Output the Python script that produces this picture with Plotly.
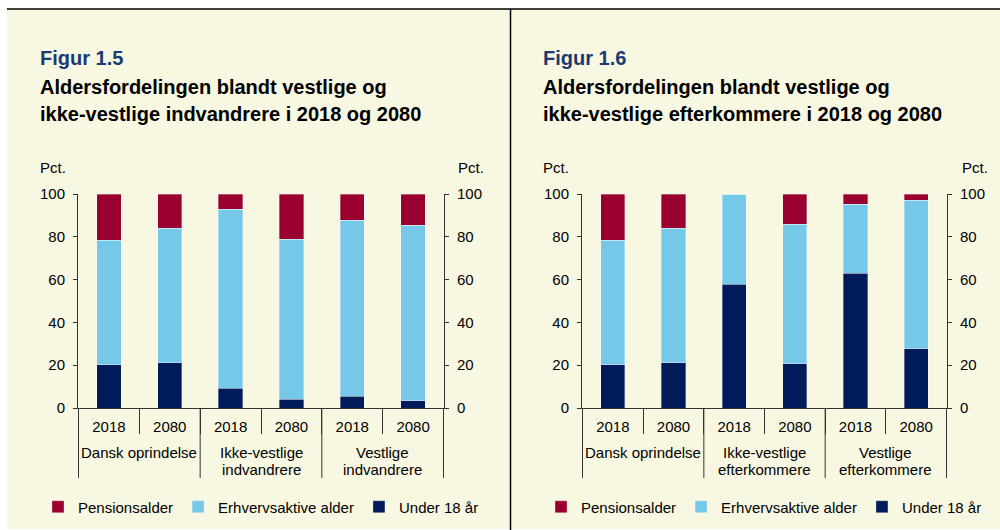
import plotly.graph_objects as go

# ---------------- data ----------------
years = ["2018", "2080", "2018", "2080", "2018", "2080"]
groups_left = ["Dansk oprindelse", "Dansk oprindelse",
               "Ikke-vestlige<br>indvandrere", "Ikke-vestlige<br>indvandrere",
               "Vestlige<br>indvandrere", "Vestlige<br>indvandrere"]
groups_right = ["Dansk oprindelse", "Dansk oprindelse",
                "Ikke-vestlige<br>efterkommere", "Ikke-vestlige<br>efterkommere",
                "Vestlige<br>efterkommere", "Vestlige<br>efterkommere"]

series_names = ["Pensionsalder", "Erhvervsaktive alder", "Under 18 år"]

# Figur 1.5 (indvandrere)
left_under18 = [20.1, 21.2, 9.2, 4.2, 5.6, 3.4]
left_working = [58.4, 62.7, 83.6, 74.7, 82.2, 82.1]
left_pension = [21.5, 16.1, 7.2, 21.1, 12.2, 14.5]

# Figur 1.6 (efterkommere)
right_under18 = [20.1, 21.2, 57.9, 20.6, 63.0, 27.6]
right_working = [58.4, 62.7, 41.9, 65.2, 32.3, 69.4]
right_pension = [21.5, 16.1, 0.2, 14.2, 4.7, 3.0]

y_ticks = [0, 20, 40, 60, 80, 100]

# ---------------- style ----------------
C_PENS = "#990030"
C_WORK = "#76C8E8"
C_UNDER = "#001A5A"
CREAM = "#F8F7E1"
AXIS = "#333333"
FONT = "Liberation Sans, Arial, sans-serif"
W, H = 1000, 530


def px_x(p):
    return p / W


def px_y(p):
    return 1 - p / H


fig = go.Figure()
shapes = []
ann = []


def add_panel(groups, under, work, pens, xa, ya, ya_right, legend):
    cats = ["%s | %s" % (g, y) for g, y in zip(groups, years)]
    for name, vals, col in [(series_names[2], under, C_UNDER),
                            (series_names[1], work, C_WORK),
                            (series_names[0], pens, C_PENS)]:
        fig.add_trace(go.Bar(
            x=cats, y=vals, name=name, xaxis=xa, yaxis=ya,
            marker=dict(color=col, line=dict(color="rgba(255,255,255,0.55)", width=0.6)),
            legend=legend, showlegend=True,
        ))
    # carrier trace (draws nothing) so the right-hand axis is rendered
    fig.add_trace(go.Scatter(x=cats, y=pens, mode="none", xaxis=xa, yaxis=ya_right,
                             showlegend=False, hoverinfo="skip"))

    # group structure: labels under the year labels, dividers at group edges
    spans = []
    for i, g in enumerate(groups):
        if spans and spans[-1][0] == g:
            spans[-1][2] = i
        else:
            spans.append([g, i, i])
    xref = xa
    edges = [spans[0][1] - 0.5] + [s[2] + 0.5 for s in spans]
    for e in edges:
        shapes.append(dict(type="line", xref=xref, yref="paper", x0=e, x1=e,
                           y0=px_y(408), y1=px_y(478), line=dict(color=AXIS, width=1)))
    for g, i0, i1 in spans:
        for k, line in enumerate(g.split("<br>")):
            ann.append(dict(text=line, x=(i0 + i1) / 2, xref=xref, y=px_y(452 + 17 * k),
                            yref="paper", xanchor="center", yanchor="middle", showarrow=False,
                            font=dict(size=15, color="#000", family=FONT)))
    return cats


cats_l = add_panel(groups_left, left_under18, left_working, left_pension, "x", "y", "y2", "legend")
cats_r = add_panel(groups_right, right_under18, right_working, right_pension, "x2", "y3", "y4", "legend2")

xdom_l = [px_x(78), px_x(444)]
xdom_r = [px_x(582), px_x(947)]
ydom = [px_y(408), px_y(194)]

xcommon = dict(
    type="category", showline=True, linecolor=AXIS, linewidth=1,
    ticks="outside", ticklen=25, tickcolor=AXIS, tickwidth=1, tickson="boundaries",
    ticklabelstandoff=5, tickmode="array", ticktext=years,
    tickfont=dict(size=15, color="#000", family=FONT),
    showgrid=False, zeroline=False, fixedrange=True,
)
ycommon = dict(
    range=[0, 100], tickvals=y_ticks, showline=True, linecolor=AXIS, linewidth=1,
    ticks="outside", ticklen=4, tickcolor=AXIS, showgrid=False, zeroline=False,
    tickfont=dict(size=15, color="#000", family=FONT), ticklabelstandoff=5,
    fixedrange=True,
)

fig.update_layout(
    width=W, height=H, margin=dict(l=0, r=0, t=0, b=0, autoexpand=False),
    paper_bgcolor="white", plot_bgcolor="rgba(0,0,0,0)",
    barmode="stack", bargap=0.6,
    font=dict(family=FONT, size=15, color="#000"),
    xaxis=dict(domain=xdom_l, anchor="y", tickvals=cats_l, **xcommon),
    yaxis=dict(domain=ydom, anchor="x", side="left", **ycommon),
    yaxis2=dict(domain=ydom, anchor="x", overlaying="y", side="right", **ycommon),
    xaxis2=dict(domain=xdom_r, anchor="y3", tickvals=cats_r, **xcommon),
    yaxis3=dict(domain=ydom, anchor="x2", side="left", **ycommon),
    yaxis4=dict(domain=ydom, anchor="x2", overlaying="y3", side="right", **ycommon),
    legend=dict(orientation="h", x=px_x(38), y=px_y(507), xanchor="left", yanchor="middle",
                traceorder="reversed", bgcolor="rgba(0,0,0,0)",
                font=dict(size=15, color="#000", family=FONT)),
    legend2=dict(orientation="h", x=px_x(541), y=px_y(507), xanchor="left", yanchor="middle",
                 traceorder="reversed", bgcolor="rgba(0,0,0,0)",
                 font=dict(size=15, color="#000", family=FONT)),
)

# background panels and frame lines
shapes = [
    dict(type="rect", xref="paper", yref="paper", x0=px_x(7), x1=px_x(510), y0=px_y(529), y1=px_y(9),
         fillcolor=CREAM, line=dict(width=0), layer="below"),
    dict(type="rect", xref="paper", yref="paper", x0=px_x(510), x1=1, y0=px_y(529), y1=px_y(9),
         fillcolor=CREAM, line=dict(width=0), layer="below"),
    dict(type="line", xref="paper", yref="paper", x0=px_x(7), x1=1, y0=px_y(9), y1=px_y(9),
         line=dict(color="black", width=1.5)),
    dict(type="line", xref="paper", yref="paper", x0=px_x(510.5), x1=px_x(510.5), y0=0, y1=px_y(9),
         line=dict(color="black", width=1.5)),
] + shapes
fig.update_layout(shapes=shapes)

TITLE_BLUE = "#1B3A72"
for x0, fig_no, l1, l2, pr in [
    (38, "Figur 1.5", "Aldersfordelingen blandt vestlige og", "ikke-vestlige indvandrere i 2018 og 2080", 456),
    (541, "Figur 1.6", "Aldersfordelingen blandt vestlige og", "ikke-vestlige efterkommere i 2018 og 2080", 960),
]:
    ann.append(dict(text="<b>%s</b>" % fig_no, x=px_x(x0), y=px_y(58), xref="paper", yref="paper",
                    xanchor="left", yanchor="middle", showarrow=False,
                    font=dict(size=20, color=TITLE_BLUE, family=FONT)))
    ann.append(dict(text="<b>%s</b>" % l1, x=px_x(x0), y=px_y(87), xref="paper", yref="paper",
                    xanchor="left", yanchor="middle", showarrow=False,
                    font=dict(size=20, color="#000", family=FONT)))
    ann.append(dict(text="<b>%s</b>" % l2, x=px_x(x0), y=px_y(114), xref="paper", yref="paper",
                    xanchor="left", yanchor="middle", showarrow=False,
                    font=dict(size=20, color="#000", family=FONT)))
    ann.append(dict(text="Pct.", x=px_x(x0), y=px_y(168), xref="paper", yref="paper",
                    xanchor="left", yanchor="middle", showarrow=False,
                    font=dict(size=15, color="#000", family=FONT)))
    ann.append(dict(text="Pct.", x=px_x(pr), y=px_y(168), xref="paper", yref="paper",
                    xanchor="left", yanchor="middle", showarrow=False,
                    font=dict(size=15, color="#000", family=FONT)))
fig.update_layout(annotations=ann)

fig.write_html("out.html", config={"displayModeBar": False},
               post_script="document.body.style.margin='0';")
